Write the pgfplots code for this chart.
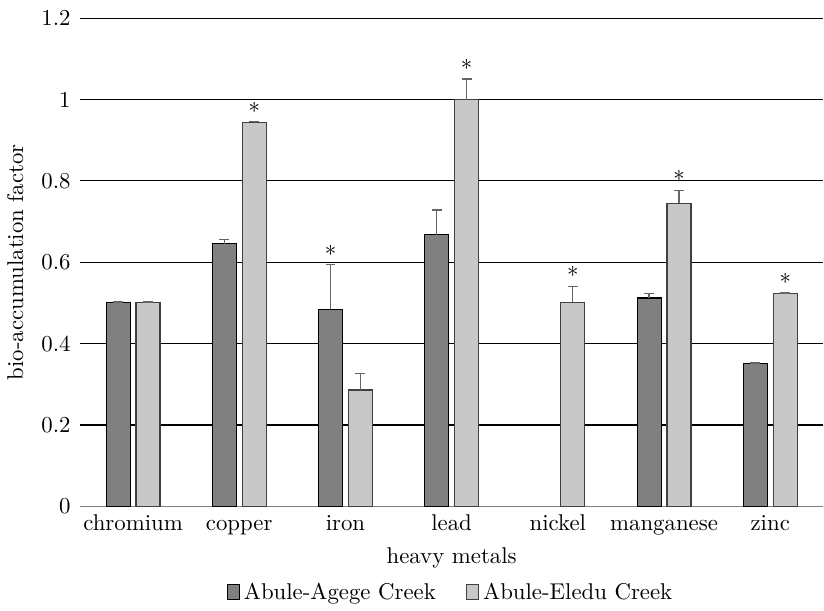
\documentclass[border=0pt]{standalone}
\usepackage{fontspec}
\usepackage{pgfplots}
\pgfplotsset{compat=1.18}
\usepackage{pgfplotstable}
\definecolor{darkbar}{HTML}{808080}
\definecolor{lightbar}{HTML}{C8C8C8}
\definecolor{errc}{HTML}{666666}
\pgfplotsset{sqlegend/.style={legend image code/.code={\draw[##1] (0pt,-3.2pt) rectangle (5.5pt,3.6pt);}}}
\newcommand{\lf}{\fontsize{10.6}{12.7}\selectfont}

\pgfplotstableread{
x a aerr
-0.141 0.500 0.002
0.859 0.645 0.010
1.859 0.484 0.110
2.859 0.667 0.061
4.859 0.512 0.011
5.859 0.350 0.002
}\agege
\pgfplotstableread{
x b berr
0.141 0.500 0.002
1.141 0.943 0.002
2.141 0.286 0.040
3.141 1.000 0.050
4.141 0.501 0.040
5.141 0.745 0.032
6.141 0.522 0.002
}\eledu
\pgfplotstableread{
x y
1.141 0.945
1.859 0.594
3.141 1.050
4.141 0.541
5.141 0.777
6.141 0.524
}\stars

\begin{document}
\begin{tikzpicture}
\begin{axis}[
  scale only axis, width=345.6pt, height=227pt,
  xmin=-0.5, xmax=6.5, ymin=0, ymax=1.2,
  xtick={0,1,2,3,4,5,6},
  xticklabels={chromium,copper,iron,lead,nickel,manganese,zinc},
  ytick={0,0.2,0.4,0.6,0.8,1,1.2},
  yticklabels={0,0.2,0.4,0.6,0.8,1,1.2},
  ymajorgrids, major grid style={black, line width=0.5pt},
  axis x line*=bottom, axis y line*=left,
  separate axis lines,
  y axis line style={draw=none},
  x axis line style={draw=gray, line width=0.6pt, -},
  major tick length=0pt,
  xticklabel style={font=\lf, text height=1.6ex, text depth=0.4ex, yshift=-1pt},
  yticklabel style={font=\lf, xshift=-0.8pt},
  xlabel={heavy metals}, ylabel={bio-accumulation factor},
  xlabel style={font=\lf, yshift=0.8pt},
  ylabel style={font=\lf, yshift=1.5pt},
  legend style={at={(0.5,-0.138)}, anchor=north, draw=none, legend columns=2, font=\lf,
    /tikz/every even column/.append style={column sep=12pt}},
]
\addplot[ybar, bar width=0.226, bar shift=0, fill=darkbar, draw=black, line width=0.5pt,
  sqlegend,
  error bars/.cd, y dir=plus, y explicit,
  error bar style={errc, line width=0.6pt},
  error mark options={rotate=90, errc, mark size=2.3pt, line width=0.6pt}]
  table[x=x, y=a, y error=aerr] {\agege};
\addlegendentry{Abule-Agege Creek}
\addplot[ybar, bar width=0.226, bar shift=0, fill=lightbar, draw=black!75, line width=0.5pt,
  sqlegend,
  error bars/.cd, y dir=plus, y explicit,
  error bar style={errc, line width=0.6pt},
  error mark options={rotate=90, errc, mark size=2.3pt, line width=0.6pt}]
  table[x=x, y=b, y error=berr] {\eledu};
\addlegendentry{Abule-Eledu Creek}
\addplot[draw=none, mark=none, forget plot, nodes near coords={*},
  every node near coord/.append style={anchor=south, inner sep=1pt, font=\lf}]
  table[x=x, y=y] {\stars};
\end{axis}
\path ([yshift=8.4pt]current axis.north);
\end{tikzpicture}
\end{document}
